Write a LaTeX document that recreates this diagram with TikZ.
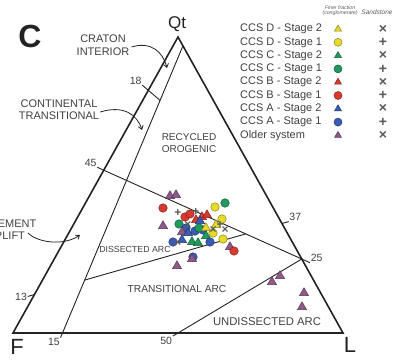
\documentclass[tikz,border=0pt]{standalone}
\usepackage{fontspec}
\setmainfont{Liberation Sans}
\usetikzlibrary{positioning,calc,arrows.meta,shapes.geometric}
\definecolor{ink}{HTML}{222222}
\definecolor{txt}{HTML}{404040}
\definecolor{ccsD}{HTML}{E6DA2A}
\definecolor{ccsC}{HTML}{1F9A5C}
\definecolor{ccsB}{HTML}{D83A2E}
\definecolor{ccsA}{HTML}{3A5CB4}
\definecolor{older}{HTML}{8E5A8A}
\tikzset{
  frame/.style={draw=ink, line width=1.6pt, line join=miter},
  bound/.style={draw=ink, line width=0.9pt},
  callout/.style={draw=ink, line width=0.8pt, -{Straight Barb[length=3.5pt,width=5pt]}},
  field/.style={text=txt, align=center, inner sep=0pt, font=\fontsize{11}{12.5}\selectfont},
  num/.style={text=txt, inner sep=0.6pt, font=\fontsize{10.5}{11}\selectfont},
  corner/.style={text=ink, inner sep=0pt},
  dot/.style={circle, draw=#1!60!black, fill=#1, line width=0.5pt, inner sep=0pt, minimum size=8.5pt},
  tri/.style={regular polygon, regular polygon sides=3, draw=#1!60!black, fill=#1, line width=0.5pt, inner sep=0pt, minimum size=10.5pt},
  dotA/.style={dot=ccsA}, triA/.style={tri=ccsA},
  dotB/.style={dot=ccsB}, triB/.style={tri=ccsB},
  dotC/.style={dot=ccsC}, triC/.style={tri=ccsC},
  dotD/.style={dot=ccsD}, triD/.style={tri=ccsD},
  triOld/.style={tri=older},
  crs/.style={text=ink!75, inner sep=0pt, font=\bfseries\fontsize{12}{12}\selectfont},
  legcrs/.style={text=ink!75, inner sep=0pt, font=\bfseries\fontsize{14}{14}\selectfont},
  legtext/.style={text=txt, anchor=west, inner sep=0pt, font=\fontsize{11}{12}\selectfont},
  head/.style={text=txt!85, inner sep=0pt, font=\itshape\fontsize{5.2}{5.5}\selectfont}
}

\begin{document}
\begin{tikzpicture}[x=1pt,y=-1pt]
\useasboundingbox (0,0) rectangle (406,359);
\clip (0,0) rectangle (406,359);

% corners of the QtFL triangle
\coordinate (Qt) at (178,37);
\coordinate (F) at (13,333);
\coordinate (L) at (343,333);

% field boundaries
\coordinate (i97) at (barycentric cs:Qt=0.97,L=0.03);
\coordinate (l15) at (barycentric cs:F=0.85,L=0.15);
\coordinate (q82) at (barycentric cs:Qt=0.82,F=0.18);
\coordinate (e18) at ($(i97)!0.19!(l15)$);
\coordinate (q55) at (barycentric cs:Qt=0.55,F=0.45);
\coordinate (q25) at (barycentric cs:Qt=0.25,L=0.75);
\coordinate (q13) at (barycentric cs:Qt=0.13,F=0.87);
\coordinate (q37) at (barycentric cs:Qt=0.37,L=0.63);
\coordinate (l50) at (barycentric cs:F=0.5,L=0.5);
\coordinate (a13) at (intersection of q13--q37 and i97--l15);
\coordinate (b37) at (intersection of q13--q37 and q55--q25);

\draw[bound] (i97) -- (l15);
\draw[bound] (q82) -- (e18);
\draw[bound] (q55) -- (q25);
\draw[bound] (a13) -- (b37);
\draw[bound] (l50) -- (q25);

% ticks
\draw[bound] (q82) -- ($(q82)!-8pt!(e18)$) coordinate (t18);
\draw[bound] (q55) -- ($(q55)!-7pt!(q25)$) coordinate (t45);
\draw[bound] (q25) -- ($(q25)!-9pt!(q55)$) coordinate (t25);
\draw[bound] (q13) -- ($(q13)!-7pt!(q37)$) coordinate (t13);
\draw[bound] (q37) -- ($(q37)!-7pt!(q13)$) coordinate (t37);
\draw[bound] (l50) -- ($(l50)!-6pt!(q25)$) coordinate (t50);
\draw[bound] (l15) -- ($(l15)!-5pt!(i97)$) coordinate (t15);

\node[num, anchor=south east] (n18) at (t18) {18};
\node[num, anchor=south east] (n45) at (t45) {45};
\node[num, anchor=south west] (n25) at (t25) {25};
\node[num, anchor=east] (n13) at (t13) {13};
\node[num, anchor=south west] (n37) at (t37) {37};
\node[num, anchor=north east] (n50) at (t50) {50};
\node[num, anchor=north east] (n15) at (t15) {15};

\draw[frame] (F) -- (L) -- (Qt) -- cycle;

% corner labels
\node[corner, font=\fontsize{17}{17}\selectfont] (lQt) at (177,24) {Qt};
\node[corner, font=\fontsize{22}{22}\selectfont] (lF) at (17,347) {F};
\node[corner, font=\fontsize{22}{22}\selectfont] (lL) at (350,345) {L};
\node[corner, font=\bfseries\fontsize{32}{32}\selectfont] (panel) at (30,36.5) {C};

% field names
\node[field] (craton) at (103,45) {CRATON\\INTERIOR};
\node[field, font=\fontsize{11}{12}\selectfont] (contin) at (59,110) {CONTINENTAL\\TRANSITIONAL};
\node[field, font=\fontsize{11}{11.5}\selectfont] (basement) at (6,229.5) {BASEMENT\\UPLIFT};
\node[field, font=\fontsize{10}{11.5}\selectfont] (recyc) at (189,143) {RECYCLED\\OROGENIC};
\node[field, font=\fontsize{8.8}{9}\selectfont] (dissec) at (135,249) {DISSECTED ARC};
\node[field, font=\fontsize{10.2}{11}\selectfont] (trans) at (177,289) {TRANSITIONAL ARC};
\node[field, font=\fontsize{11.3}{12}\selectfont] (undiss) at (267,322) {UNDISSECTED ARC};

\coordinate (cratonTip) at (167,68);
\coordinate (continTip) at (142,130);
\coordinate (basementTip) at (80,235);
\draw[callout] ([xshift=2pt,yshift=-2pt]craton.east) .. controls (151,41) and (163,52) .. (cratonTip);
\draw[callout] ([xshift=1pt,yshift=-2pt]contin.east) .. controls (123,105) and (137,114) .. (continTip);
\draw[callout] (28,233) .. controls (38,243) and (64,246) .. (basementTip);

% samples
\foreach \x/\y/\s [count=\i] in {
  170/196/triOld, 176/195/triOld, 163/208/dotB, 163/226/triOld,
  179/224/dotC, 186/228/dotA, 182/232/triOld, 188/233/triA,
  185/217/dotB, 190/214/dotB, 196/220/triB, 202/217/triB, 207/215/triB,
  200/221/triA, 195/231/dotA, 203/230/dotA, 199/228/dotC,
  225/203/dotC, 215/207/dotD, 222/219/dotD, 206/228/triD, 216/225/triD,
  213/233/dotD, 223/239/dotD, 206/236/triC,
  173/242/dotA, 182/240/triA, 192/242/triC, 198/243/triC, 210/242/dotA,
  230/247/triOld, 234/251/dotB,
  193/257/dotA, 192/259/triOld, 177/266/triOld,
  272/282/triOld, 280/276/triOld, 304/293/triOld, 302/307/triOld}
  \node[\s] (p\i) at (\x,\y) {};
\foreach \x/\y/\c [count=\i] in {
  178/243/×, 213/230/×, 225/230/×, 188/225/×,
  178/213/+, 220/225/+, 196/212/+}
  \node[crs] (c\i) at (\x,\y) {\c};

% legend
\node[head] (finer) at (340,7.5) {Finer fraction};
\node[head, below=0.6pt of finer] (congl) {(conglomerate)};
\node[head, font=\itshape\fontsize{6.5}{7}\selectfont] (sand) at (377,12) {Sandstone};
\foreach \lab/\sym/\c [count=\i] in {
  CCS D - Stage 2/triD/×, CCS D - Stage 1/dotD/+,
  CCS C - Stage 2/triC/×, CCS C - Stage 1/dotC/+,
  CCS B - Stage 2/triB/×, CCS B - Stage 1/dotB/+,
  CCS A - Stage 2/triA/×, CCS A - Stage 1/dotA/+,
  Older system/triOld/×}
{
  \node[legtext] (leg\i) at (240,{15.7+13.3*\i}) {\lab};
  \node[\sym, minimum size=8pt] (legsym\i) at (338,{15.7+13.3*\i}) {};
  \node[legcrs] (legx\i) at (383,{15.7+13.3*\i}) {\c};
}
\end{tikzpicture}
\end{document}
